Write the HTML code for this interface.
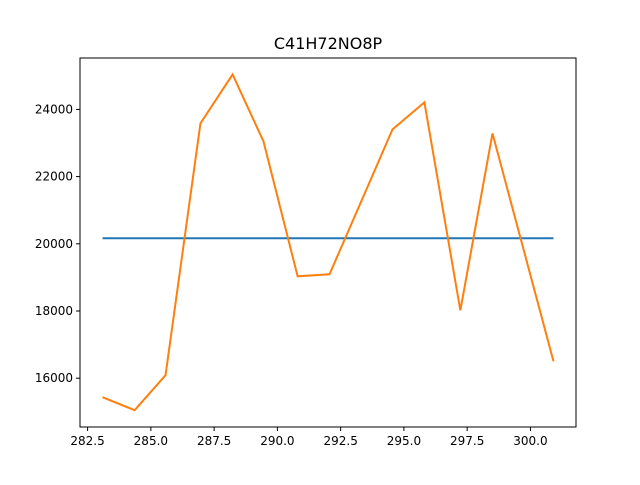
<!DOCTYPE html>
<html><head><meta charset="utf-8"><style>body{margin:0;background:#fff}svg{font-family:"DejaVu Sans","Liberation Sans",sans-serif}</style></head>
<body>
<svg id="c" width="640" height="480" xmlns="http://www.w3.org/2000/svg"></svg>
<script>
const xs=[283.09,284.36,285.58,286.96,288.23,289.45,290.80,292.06,294.55,295.81,297.23,298.50,300.91];
const ys=[15435,15048,16089,23584,25041,23048,19033,19093,23405,24208,18022,23286,16506];
const meanVal=[20164];
const xTicks=[282.5,285.0,287.5,290.0,292.5,295.0,297.5,300.0];
const yTicks=[16000,18000,20000,22000,24000];
const L=80,R=576,T=58,B=427,x0=282.2,x1=301.8,y0=14548,y1=25530;
const X=v=>L+(v-x0)/(x1-x0)*(R-L), Y=v=>B-(v-y0)/(y1-y0)*(B-T);
const s=document.getElementById('c');const NS='http://www.w3.org/2000/svg';
function el(t,a,txt){const e=document.createElementNS(NS,t);for(const k in a)e.setAttribute(k,a[k]);if(txt!=null)e.textContent=txt;s.appendChild(e);return e;}
let e=el('text',{x:328,y:49,'text-anchor':'middle','font-size':16},'C41H72NO8P');


xTicks.forEach(v=>{const x=X(v);el('line',{x1:x,x2:x,y1:B,y2:B+4,stroke:'#000'});
e=el('text',{x:x,y:B+18,'text-anchor':'middle','font-size':12},v.toFixed(1));

});
yTicks.forEach(v=>{const y=Y(v);el('line',{x1:L-4,x2:L,y1:y,y2:y,stroke:'#000'});
e=el('text',{x:L-7,y:y+4,'text-anchor':'end','font-size':12},v);

});
e=el('line',{x1:X(xs[0]),x2:X(xs[xs.length-1]),y1:Y(meanVal[0]),y2:Y(meanVal[0]),stroke:'#1f77b4','stroke-width':2});


e=el('polyline',{points:xs.map((v,i)=>X(v)+','+Y(ys[i])).join(' '),fill:'none',stroke:'#ff7f0e','stroke-width':2});


e=el('rect',{x:L,y:T,width:R-L,height:B-T,fill:'none',stroke:'#000'});


</script>
</body></html>
